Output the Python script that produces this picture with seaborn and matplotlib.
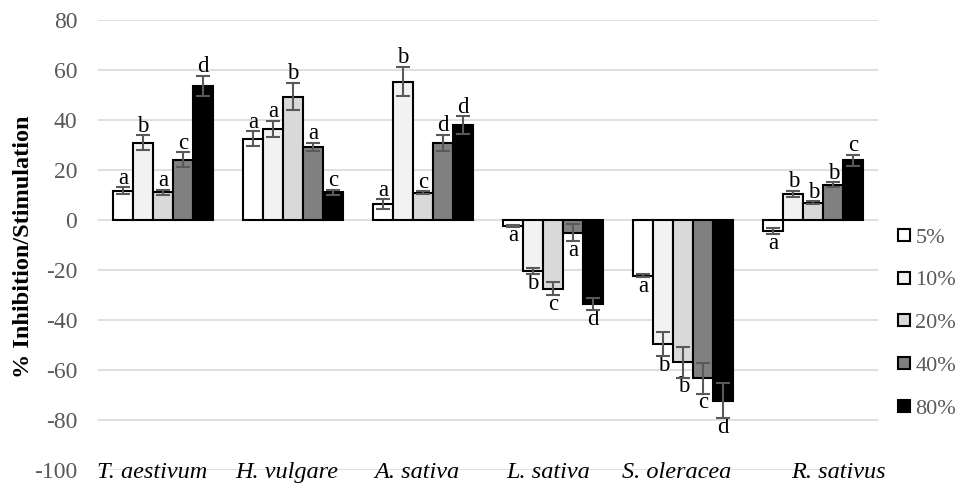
"""
Inhibition / stimulation bar chart by plant species and extract concentration
"""
import numpy as np
import pandas as pd
import matplotlib
matplotlib.use("Agg")
import matplotlib.pyplot as plt
import seaborn as sns
from matplotlib.lines import Line2D

# data
species = ["T. aestivum", "H. vulgare", "A. sativa", "L. sativa", "S. oleracea", "R. sativus"]
concentrations = ["5%", "10%", "20%", "40%", "80%"]

# rows = species, columns = concentrations
means = [
    [11.7, 30.9, 11.1, 24.0, 53.6],
    [32.4, 36.5, 49.3, 29.1, 11.1],
    [6.3, 55.3, 10.9, 30.9, 38.0],
    [-2.4, -20.5, -27.5, -5.1, -33.6],
    [-22.3, -49.6, -56.9, -63.3, -72.3],
    [-4.5, 10.4, 6.9, 14.0, 23.9],
]
errors = [
    [1.4, 3.0, 1.0, 3.0, 3.9],
    [3.0, 3.2, 5.5, 1.7, 1.0],
    [1.9, 5.8, 0.6, 3.2, 3.5],
    [0.3, 1.1, 2.5, 3.4, 2.5],
    [0.7, 4.8, 6.2, 6.2, 7.1],
    [1.1, 1.3, 0.6, 1.0, 2.2],
]
letters = [
    ["a", "b", "a", "c", "d"],
    ["a", "a", "b", "a", "c"],
    ["a", "b", "c", "d", "d"],
    ["a", "b", "c", "a", "d"],
    ["a", "b", "b", "c", "d"],
    ["a", "b", "b", "b", "c"],
]
bar_colors = ["#FFFFFF", "#F2F2F2", "#D9D9D9", "#808080", "#000000"]

# small horizontal nudges of the species names (as in the original layout)
label_shift = [-0.085, -0.05, -0.045, -0.04, -0.05, 0.19]

sns.set_style("white")
plt.rcParams["font.family"] = ["Liberation Serif", "DejaVu Serif"]
plt.rcParams["axes.unicode_minus"] = False

rows = []
for i, sp in enumerate(species):
    for j, c in enumerate(concentrations):
        rows.append({"species": sp, "conc": c, "value": means[i][j]})
df = pd.DataFrame(rows)

fig = plt.figure(figsize=(9.62, 4.84), dpi=100)
ax = fig.add_axes([0.102, 0.029, 0.811, 0.930])

sns.barplot(data=df, x="species", y="value", hue="conc", order=species,
            hue_order=concentrations, palette=bar_colors, errorbar=None,
            width=0.77, edgecolor="black", linewidth=1.5, ax=ax,
            legend=False, zorder=3)

# error bars and significance letters on each bar
bar_groups = list(ax.containers)
for j, cont in enumerate(bar_groups):
    for i, bar in enumerate(cont.patches):
        x = bar.get_x() + bar.get_width() / 2
        v = means[i][j]
        e = errors[i][j]
        ax.errorbar(x, v, yerr=e, fmt="none", ecolor="#595959",
                    elinewidth=1.5, capsize=5, capthick=1.5, zorder=4)
        if v >= 0:
            ax.annotate(letters[i][j], (x, v + e), xytext=(0, -1),
                        textcoords="offset points", ha="center", va="bottom",
                        fontsize=16.5, color="black")
        else:
            ax.annotate(letters[i][j], (x, v - e), xytext=(0, 1),
                        textcoords="offset points", ha="center", va="top",
                        fontsize=16.5, color="black")

ax.set_ylim(-100, 80)
ax.set_xlim(-0.5, len(species) - 0.5)
ax.set_yticks(np.arange(-100, 81, 20))
ax.yaxis.grid(True, color="#D9D9D9", linewidth=1.2, zorder=0)
ax.set_axisbelow(True)
for s in ax.spines.values():
    s.set_visible(False)
ax.tick_params(axis="y", length=0, pad=15, labelsize=17, labelcolor="#595959")
ax.set_xticks([])
ax.set_xlabel("")
ax.set_ylabel("")
fig.text(0.024, 0.49, "% Inhibition/Stimulation", rotation=90, ha="center",
         va="center", fontsize=17.5, fontweight="bold", color="black")

# species names sit on the bottom gridline
for i, sp in enumerate(species):
    ax.text(i + label_shift[i], -101, sp, ha="center", va="center",
            fontsize=17.5, fontstyle="italic", color="black")

handles = [Line2D([], [], marker="s", linestyle="none", markersize=9,
                  markerfacecolor=c, markeredgecolor="black", markeredgewidth=1.5)
           for c in bar_colors]
leg = fig.legend(handles, concentrations, loc="center left",
                 bbox_to_anchor=(0.9227, 0.333), frameon=False, fontsize=16,
                 labelspacing=1.0, handletextpad=0.15, handlelength=0.7,
                 borderaxespad=0)
for t in leg.get_texts():
    t.set_color("#595959")

fig.savefig("out.png", dpi=100)
plt.close()
